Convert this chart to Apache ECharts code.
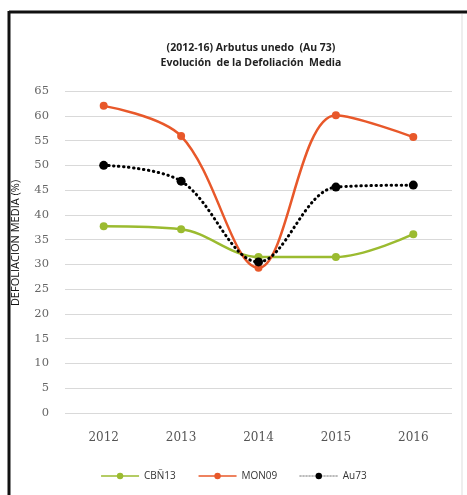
<!DOCTYPE html>
<html><head><meta charset="utf-8">
<script src="https://cdn.jsdelivr.net/npm/echarts@6/dist/echarts.min.js"></script>
<style>html,body{margin:0;padding:0;background:#fff}#c{width:467px;height:495px}</style>
</head><body><div id="c"></div>
<script>
const categories = ['2012','2013','2014','2015','2016'];
const cbn13 = [37.7, 37.1, 31.5, 31.5, 36.1];
const mon09 = [62.0, 55.9, 29.3, 60.1, 55.7];
const au73 = [50.0, 46.8, 30.5, 45.6, 46.0];
const titleLines = ['(2012-16) Arbutus unedo  (Au 73)', 'Evolución  de la Defoliación  Media'];
const yName = 'DEFOLIACIÓN MEDIA (%)';

const chart = echarts.init(document.getElementById('c'));
chart.setOption({
  animation: false,
  backgroundColor: '#fff',
  title: {
    text: titleLines.join('\n'),
    left: 246, top: 36, textAlign: 'center',
    textStyle: {fontFamily: 'Open Sans', fontSize: 10.5, fontWeight: 'bold', color: '#222', lineHeight: 15}
  },
  graphic: [
    {type: 'line', shape: {x1: 9, y1: 12, x2: 467, y2: 12}, style: {stroke: '#111', lineWidth: 3}},
    {type: 'line', shape: {x1: 9, y1: 11, x2: 9, y2: 495}, style: {stroke: '#111', lineWidth: 3}},
    {type: 'line', shape: {x1: 462, y1: 14, x2: 462, y2: 495}, style: {stroke: '#ddd', lineWidth: 1}}
  ],
  grid: {left: 65, right: 15, top: 91, bottom: 82, containLabel: false},
  xAxis: {
    type: 'category', data: categories, boundaryGap: true,
    axisLine: {show: false}, axisTick: {show: false},
    axisLabel: {fontFamily: 'DejaVu Serif', fontSize: 12, color: '#555', margin: 19}
  },
  yAxis: {
    type: 'value', min: 0, max: 65, interval: 5,
    name: yName, nameLocation: 'middle', nameGap: 44, nameRotate: 90,
    nameTextStyle: {fontFamily: 'Open Sans', fontSize: 11, color: '#111', padding: [0, 0, 0, 18]},
    axisLine: {show: false}, axisTick: {show: false},
    axisLabel: {fontFamily: 'DejaVu Serif', fontSize: 11.5, color: '#666', margin: 16},
    splitLine: {lineStyle: {color: '#d9d9d9', width: 1}}
  },
  legend: {
    bottom: 9, left: 'center', itemGap: 22, itemWidth: 38, itemHeight: 8,
    textStyle: {fontFamily: 'Open Sans', fontSize: 10, color: '#333'},
    data: [
      {name: 'CBÑ13', lineStyle: {width: 1.5}},
      {name: 'MON09', lineStyle: {width: 1.5}},
      {name: 'Au73', lineStyle: {width: 1, color: '#777', type: [1.5, 1.5]}}
    ]
  },
  series: [
    {name: 'CBÑ13', type: 'line', data: cbn13, smooth: 0.35, symbol: 'circle', symbolSize: 8,
     lineStyle: {color: '#9bbb30', width: 2.5}, itemStyle: {color: '#9bbb30'}},
    {name: 'MON09', type: 'line', data: mon09, smooth: 0.35, symbol: 'circle', symbolSize: 8,
     lineStyle: {color: '#e8582a', width: 2.5}, itemStyle: {color: '#e8582a'}},
    {name: 'Au73', type: 'line', data: au73, smooth: 0.35, symbol: 'circle', symbolSize: 9,
     lineStyle: {color: '#000', width: 3, type: [0.5, 4.5], cap: 'round'}, itemStyle: {color: '#000'}}
  ]
});
</script></body></html>
